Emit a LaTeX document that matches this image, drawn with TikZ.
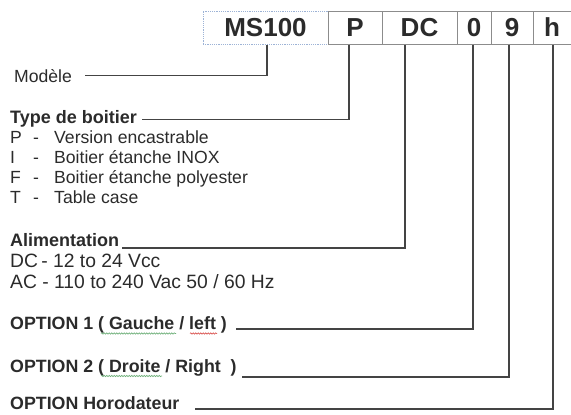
\documentclass[tikz,border=0pt]{standalone}
\usepackage{fontspec}
\setmainfont{Liberation Sans}
\usetikzlibrary{decorations.pathmorphing}
\definecolor{ink}{HTML}{2B2B2B}
\definecolor{wire}{HTML}{444444}
\definecolor{boxgray}{HTML}{8C8C8C}
\definecolor{selblue}{HTML}{9DB3D6}
\definecolor{spellgreen}{HTML}{6FB07A}
\definecolor{spellred}{HTML}{D9534F}
\tikzset{
  codebox/.style={draw=boxgray, line width=1bp, minimum height=33bp, inner sep=0pt,
     text=ink, font=\fontsize{26bp}{28bp}\selectfont\bfseries},
  lbl/.style={inner sep=0pt, anchor=base west, text=ink, font=\fontsize{17.6bp}{20bp}\selectfont},
  albl/.style={lbl, font=\fontsize{19.3bp}{21bp}\selectfont},
  blbl/.style={lbl, font=\fontsize{18bp}{20bp}\selectfont\bfseries},
  olbl/.style={lbl, font=\fontsize{17.8bp}{20bp}\selectfont\bfseries},
  wireline/.style={draw=wire, line width=1.3bp},
  spell/.style={line width=0.6bp, decorate, decoration={snake, amplitude=0.7bp, segment length=2.5bp}}
}
\begin{document}
\begin{tikzpicture}[x=1bp, y=-1bp]
\useasboundingbox (0,0) rectangle (571,414);
% code boxes
\node[codebox, minimum width=125bp, draw=selblue, dash pattern=on 1.2bp off 1bp] (ms) at (265.5,27.5) {MS100};
\node[codebox, minimum width=54bp] (bp) at (355,27.5) {P};
\node[codebox, minimum width=75bp] (bdc) at (419.5,27.5) {DC};
\node[codebox, minimum width=34bp] (b0) at (474,27.5) {0};
\node[codebox, minimum width=42bp] (b9) at (512,27.5) {9};
\node[codebox, minimum width=42bp] (bh) at (554,27.5) {\hspace*{-4bp}h};
% labels
\node[lbl] (modele) at (14,82) {Modèle};
\node[blbl] (type) at (10,123) {Type de boitier};
\node[lbl] (tp) at (10,143) {\makebox[23bp][l]{P}\makebox[21bp][l]{-}Version encastrable};
\node[lbl] (ti) at (10,163) {\makebox[23bp][l]{I}\makebox[21bp][l]{-}Boitier étanche INOX};
\node[lbl] (tf) at (10,183) {\makebox[23bp][l]{F}\makebox[21bp][l]{-}Boitier étanche polyester};
\node[lbl] (tt) at (10,203) {\makebox[23bp][l]{T}\makebox[21bp][l]{-}Table case};
\node[blbl] (alim) at (10,246) {Alimentation};
\node[albl] (adc) at (10,267) {DC\,- 12 to 24 Vcc};
\node[albl] (aac) at (10,288) {AC - 110 to 240 Vac 50 / 60 Hz};
\node[olbl] (opt1) at (10,329) {OPTION 1 ( Gauche / left )};
\node[olbl] (opt2) at (10,372) {OPTION 2 ( Droite / Right~ )};
\node[olbl] (opth) at (10,409) {OPTION Horodateur};
% spell-check underlines
\draw[spell, spellgreen] (101,333.5) -- (176,333.5);
\draw[spell, spellred] (190,333.5) -- (217,333.5);
\draw[spell, spellgreen] (101,376) -- (162,376);
% connectors
\draw[wireline] ([xshift=1.5bp]ms.south) |- ([xshift=13bp]modele.east);
\draw[wireline] ([xshift=-6bp]bp.south) |- ([xshift=5bp,yshift=-1bp]type.east);
\draw[wireline] ([xshift=-14.5bp]bdc.south) |- ([xshift=3bp,yshift=-2bp]alim.base east);
\draw[wireline] ([xshift=-1bp]b0.south) |- ([xshift=9bp]opt1.base east);
\draw[wireline] ([xshift=-3bp]b9.south) |- ([xshift=5bp,yshift=-5bp]opt2.base east);
\draw[wireline] ([xshift=-1bp]bh.south) |- ([xshift=15bp]opth.base east);
\end{tikzpicture}
\end{document}
